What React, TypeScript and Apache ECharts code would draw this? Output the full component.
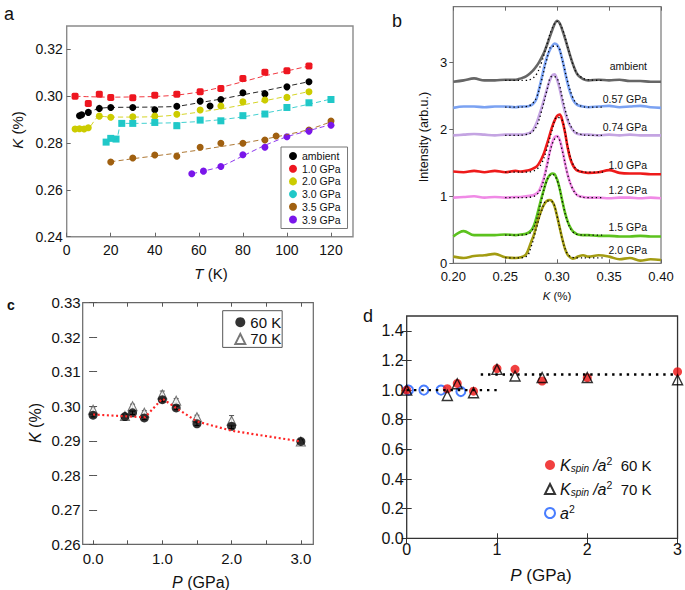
import React, { useEffect, useRef } from "react";
import * as echarts from "echarts";

const FONT = "'Liberation Sans', Arial, Helvetica, sans-serif";

// ---------- Panel a : K vs T ----------
const aNames = ["ambient", "1.0 GPa", "2.0 GPa", "3.0 GPa", "3.5 GPa", "3.9 GPa"];
const aColors = ["#000000", "#ee1620", "#cccc00", "#20c8c8", "#a06010", "#7a16ea"];
const aSymbols = ["circle", "roundRect", "circle", "rect", "circle", "circle"];
const ambientT = [5.8, 6.8, 9.8, 14.8, 20, 30, 40, 50, 60.6, 65.1, 70, 80, 90, 100, 110];
const ambientK = [0.2917, 0.2921, 0.2931, 0.2948, 0.2952, 0.2952, 0.2942, 0.2957, 0.2979, 0.2958, 0.2986, 0.3015, 0.301, 0.304, 0.3062];
const gpa10T = [3.8, 9.8, 14.8, 20, 30, 40, 50, 60.6, 70, 80, 90, 100, 110];
const gpa10K = [0.3, 0.2969, 0.3008, 0.2995, 0.2993, 0.3004, 0.3009, 0.3019, 0.3033, 0.3076, 0.3102, 0.3109, 0.3129];
const gpa20T = [3.8, 5.8, 7.9, 9.8, 14.8, 20, 30, 40, 50, 60.6, 70, 80, 90, 100, 110];
const gpa20K = [0.286, 0.2861, 0.286, 0.2865, 0.2915, 0.291, 0.2912, 0.2915, 0.2923, 0.2941, 0.2958, 0.2976, 0.2984, 0.2995, 0.3019];
const gpa30T = [17.9, 20, 22.4, 25, 30, 40, 50, 60.6, 70, 80, 90, 100, 110, 120];
const gpa30K = [0.2804, 0.282, 0.2817, 0.2884, 0.2884, 0.2888, 0.2874, 0.2898, 0.2895, 0.2917, 0.2924, 0.2952, 0.2972, 0.2986];
const gpa35T = [20, 30, 40, 50, 60.6, 70, 80, 90, 95.1, 110, 120];
const gpa35K = [0.2719, 0.2736, 0.2749, 0.2744, 0.2782, 0.2799, 0.2799, 0.2813, 0.283, 0.2856, 0.2894];
const gpa39T = [56.8, 62.1, 70, 80, 90, 100, 110, 120];
const gpa39K = [0.2669, 0.268, 0.27, 0.275, 0.2782, 0.2827, 0.2851, 0.2876];
const aErr = [0.0003, 0.0008, 0.0008, 0.0008, 0.0003, 0.0003];

// dashed guide curves of panel a
const ambientFitT = [5.8, 10, 15, 20, 30, 40, 50, 60, 70, 80, 90, 100, 110];
const ambientFitK = [0.2918, 0.2933, 0.2948, 0.2952, 0.2953, 0.2954, 0.2957, 0.2972, 0.2988, 0.3006, 0.3024, 0.3043, 0.3062];
const gpa10FitT = [4, 10, 20, 30, 40, 50, 60, 70, 80, 90, 100, 110];
const gpa10FitK = [0.3, 0.2998, 0.2996, 0.2997, 0.2999, 0.3005, 0.3018, 0.3038, 0.3062, 0.3087, 0.3108, 0.3129];
const gpa20FitT = [4, 6, 8, 10, 15, 20, 30, 40, 50, 60, 70, 80, 90, 100, 110];
const gpa20FitK = [0.286, 0.2862, 0.2862, 0.2865, 0.2915, 0.2911, 0.2911, 0.2913, 0.292, 0.2932, 0.2946, 0.2963, 0.2981, 0.3, 0.302];
const gpa30FitT = [18, 20, 22.4, 25, 30, 40, 50, 60, 70, 80, 90, 100, 110, 120];
const gpa30FitK = [0.2804, 0.2818, 0.2817, 0.2884, 0.2884, 0.2885, 0.2887, 0.2892, 0.29, 0.2912, 0.2928, 0.2946, 0.2966, 0.2988];
const gpa35FitT = [20, 30, 40, 50, 60, 70, 80, 90, 100, 110, 120];
const gpa35FitK = [0.272, 0.2733, 0.2745, 0.2757, 0.277, 0.2785, 0.28, 0.2817, 0.2836, 0.2858, 0.2891];
const gpa39FitT = [57, 62, 70, 80, 90, 100, 110, 118];
const gpa39FitK = [0.2669, 0.268, 0.27, 0.2745, 0.279, 0.2827, 0.2853, 0.2874];

const aT = [ambientT, gpa10T, gpa20T, gpa30T, gpa35T, gpa39T];
const aK = [ambientK, gpa10K, gpa20K, gpa30K, gpa35K, gpa39K];
const aFitT = [ambientFitT, gpa10FitT, gpa20FitT, gpa30FitT, gpa35FitT, gpa39FitT];
const aFitK = [ambientFitK, gpa10FitK, gpa20FitK, gpa30FitK, gpa35FitK, gpa39FitK];
const aXTicks = [0, 20, 40, 60, 80, 100, 120];
const aYTicks = [0.24, 0.26, 0.28, 0.3, 0.32];

// ---------- Panel b : spectra ----------
const bNames = ["ambient", "0.57 GPa", "0.74 GPa", "1.0 GPa", "1.2 GPa", "1.5 GPa", "2.0 GPa"];
const bColors = ["#666666", "#7ba2f2", "#c4a4e2", "#ee1a1a", "#f08ae6", "#5cc21e", "#a39c12"];
const specK = [0.2, 0.21, 0.22, 0.23, 0.24, 0.25, 0.26, 0.265, 0.27, 0.275, 0.2775, 0.28, 0.2825, 0.285, 0.2875, 0.29, 0.2925, 0.295, 0.2975, 0.3, 0.3025, 0.305, 0.3075, 0.31, 0.3125, 0.315, 0.3175, 0.32, 0.325, 0.33, 0.34, 0.35, 0.36, 0.37, 0.38, 0.39, 0.4];
const specAmbient = [2.71, 2.73, 2.76, 2.73, 2.73, 2.74, 2.74, 2.76, 2.79, 2.85, 2.89, 2.94, 3.0, 3.07, 3.15, 3.25, 3.36, 3.47, 3.57, 3.62, 3.58, 3.48, 3.36, 3.23, 3.1, 2.98, 2.88, 2.81, 2.75, 2.73, 2.74, 2.73, 2.74, 2.72, 2.72, 2.71, 2.71];
const spec057 = [2.32, 2.34, 2.34, 2.33, 2.34, 2.34, 2.33, 2.34, 2.34, 2.36, 2.39, 2.45, 2.6, 2.76, 2.93, 3.07, 3.17, 3.24, 3.28, 3.26, 3.18, 3.04, 2.86, 2.69, 2.55, 2.45, 2.39, 2.36, 2.34, 2.33, 2.34, 2.35, 2.33, 2.34, 2.35, 2.33, 2.32];
const spec074 = [1.91, 1.92, 1.93, 1.92, 1.91, 1.92, 1.92, 1.92, 1.93, 1.96, 2.01, 2.09, 2.2, 2.32, 2.45, 2.59, 2.71, 2.8, 2.82, 2.74, 2.6, 2.42, 2.26, 2.14, 2.05, 1.99, 1.95, 1.93, 1.92, 1.92, 1.91, 1.92, 1.91, 1.92, 1.91, 1.91, 1.91];
const spec10 = [1.37, 1.36, 1.38, 1.36, 1.38, 1.36, 1.38, 1.37, 1.38, 1.4, 1.42, 1.44, 1.49, 1.56, 1.65, 1.77, 1.9, 2.03, 2.13, 2.2, 2.22, 2.13, 1.96, 1.74, 1.57, 1.47, 1.41, 1.38, 1.36, 1.35, 1.36, 1.39, 1.35, 1.34, 1.34, 1.33, 1.33];
const spec12 = [0.98, 0.99, 1.0, 0.98, 0.99, 0.98, 0.99, 0.99, 1.0, 1.01, 1.02, 1.04, 1.08, 1.17, 1.29, 1.46, 1.64, 1.79, 1.88, 1.9, 1.84, 1.69, 1.5, 1.33, 1.2, 1.11, 1.05, 1.01, 0.99, 0.98, 0.98, 0.97, 0.98, 0.98, 0.97, 0.98, 0.97];
const spec15 = [0.4, 0.48, 0.42, 0.42, 0.42, 0.43, 0.42, 0.43, 0.44, 0.49, 0.56, 0.68, 0.83, 0.98, 1.12, 1.24, 1.31, 1.34, 1.33, 1.25, 1.11, 0.93, 0.76, 0.63, 0.54, 0.48, 0.45, 0.43, 0.42, 0.42, 0.41, 0.41, 0.4, 0.4, 0.41, 0.4, 0.4];
const spec20 = [0.1, 0.08, 0.11, 0.12, 0.14, 0.09, 0.08, 0.09, 0.13, 0.32, 0.42, 0.56, 0.69, 0.8, 0.88, 0.93, 0.945, 0.93, 0.85, 0.7, 0.53, 0.36, 0.22, 0.13, 0.09, 0.07, 0.08, 0.1, 0.12, 0.1, 0.12, 0.1, 0.06, 0.08, 0.04, 0.06, 0.05];
const specs = [specAmbient, spec057, spec074, spec10, spec12, spec15, spec20];
const fitK = [0.25, 0.26, 0.27, 0.275, 0.28, 0.285, 0.29, 0.295, 0.3, 0.305, 0.31, 0.315, 0.32, 0.33, 0.345];
const fitAmbient = [2.73, 2.73, 2.73, 2.75, 2.82, 3.0, 3.26, 3.5, 3.61, 3.5, 3.24, 2.98, 2.82, 2.74, 2.73];
const fit057 = [2.33, 2.33, 2.34, 2.37, 2.47, 2.73, 3.04, 3.24, 3.24, 3.03, 2.72, 2.48, 2.37, 2.33, 2.33];
const fit074 = [1.91, 1.91, 1.92, 1.95, 2.04, 2.27, 2.57, 2.79, 2.76, 2.47, 2.17, 2.0, 1.94, 1.91, 1.91];
const fit10 = [1.36, 1.36, 1.36, 1.37, 1.4, 1.49, 1.7, 1.98, 2.18, 2.13, 1.76, 1.49, 1.39, 1.36, 1.36];
const fit12 = [0.98, 0.98, 0.98, 0.99, 1.02, 1.14, 1.43, 1.77, 1.89, 1.68, 1.33, 1.11, 1.01, 0.98, 0.98];
const fit15 = [0.42, 0.42, 0.43, 0.47, 0.64, 0.95, 1.23, 1.33, 1.24, 0.92, 0.62, 0.47, 0.43, 0.42, 0.42];
const fit20 = [0.08, 0.08, 0.1, 0.25, 0.52, 0.78, 0.93, 0.92, 0.7, 0.36, 0.14, 0.09, 0.08, 0.08, 0.08];
const fits = [fitAmbient, fit057, fit074, fit10, fit12, fit15, fit20];
const bLabelY = [66, 98.5, 127, 164.5, 190, 226.5, 250];
const bYTicks = [0, 1, 2, 3];

// ---------- Panel c : K vs P ----------
const cP = [0, 0.46, 0.57, 0.74, 1.0, 1.2, 1.5, 2.0, 3.0];
const cK60 = [0.2974, 0.297, 0.2981, 0.2966, 0.3019, 0.2995, 0.2949, 0.2942, 0.2898];
const cK70 = [0.299, 0.2972, 0.3, 0.2981, 0.3034, 0.3016, 0.2968, 0.2958, 0.2898];
const cErr70 = [0.0008, 0.0005, 0.0006, 0.0006, 0.001, 0.0006, 0.0006, 0.0015, 0.0005];
const cErr60 = [0.0005, 0.0005, 0.0005, 0.0005, 0.0006, 0.0005, 0.0005, 0.0007, 0.0005];
const cLineP = [0, 0.46, 0.75, 1.0, 1.2, 1.5, 2.0, 3.0];
const cLineK = [0.2976, 0.2971, 0.2968, 0.3022, 0.2995, 0.2956, 0.2929, 0.2898];
const cXLabels = [0, 1, 2, 3];
const cXTicks = [0, 0.5, 1, 1.5, 2, 2.5, 3];

// ---------- Panel d : normalised ----------
const dP = [0, 0.45, 0.56, 0.74, 1.0, 1.2, 1.5, 2.0, 3.0];
const d60 = [1.0, 1.009, 1.045, 0.993, 1.145, 1.14, 1.061, 1.084, 1.124];
const d70 = [1.0, 0.964, 1.043, 0.982, 1.14, 1.095, 1.085, 1.085, 1.07];
const a2P = [0.02, 0.19, 0.38, 0.6];
const a2V = [1.0, 1.0, 1.0, 0.99];
const dLowP = [0, 1.02];
const dLowV = [1.0, 1.0];
const dHighP = [0.82, 3.0];
const dHighV = [1.105, 1.105];
const dYTicks = [0, 0.2, 0.4, 0.6, 0.8, 1.0, 1.2, 1.4];

const zip = (xs: number[], ys: number[]) => xs.map((x, i) => [x, ys[i]]);
const zip3 = (xs: number[], ys: number[], es: number[]) => xs.map((x, i) => [x, ys[i], es[i]]);

function errRender(color: string, cap: number, width = 1) {
  return (params: any, api: any) => {
    const x = api.value(0), y = api.value(1), e = api.value(2);
    const p1 = api.coord([x, y + e]);
    const p2 = api.coord([x, y - e]);
    const s = { stroke: color, lineWidth: width };
    return {
      type: "group",
      children: [
        { type: "line", shape: { x1: p1[0], y1: p1[1], x2: p2[0], y2: p2[1] }, style: s },
        { type: "line", shape: { x1: p1[0] - cap, y1: p1[1], x2: p1[0] + cap, y2: p1[1] }, style: s },
        { type: "line", shape: { x1: p2[0] - cap, y1: p2[1], x2: p2[0] + cap, y2: p2[1] }, style: s },
      ],
    };
  };
}

function valueAxis(o: any) {
  return {
    type: "value",
    scale: true,
    splitLine: { show: false },
    axisLine: { show: false },
    ...o,
  };
}

function buildOption() {
  const series: any[] = [];
  // panel a
  aNames.forEach((name, i) => {
    series.push({
      type: "line", name: name + " fit", xAxisIndex: 0, yAxisIndex: 0,
      data: zip(aFitT[i], aFitK[i]), showSymbol: false, smooth: 0.3,
      lineStyle: { color: aColors[i], width: 1, type: [5, 3], opacity: 0.85 }, silent: true,
    });
  });
  aNames.forEach((name, i) => {
    series.push({
      type: "custom", name: name + " err", xAxisIndex: 0, yAxisIndex: 0,
      data: zip3(aT[i], aK[i], aT[i].map(() => aErr[i])),
      renderItem: errRender(aColors[i], 2.5), encode: { x: 0, y: 1 }, silent: true,
    });
    series.push({
      type: "scatter", name, xAxisIndex: 0, yAxisIndex: 0,
      data: zip(aT[i], aK[i]), symbol: aSymbols[i], symbolSize: 7,
      itemStyle: { color: aColors[i], opacity: 1 },
    });
  });
  // panel b
  bNames.forEach((name, i) => {
    series.push({
      type: "line", name: "spec " + name, xAxisIndex: 1, yAxisIndex: 1,
      data: zip(specK, specs[i]), showSymbol: false, smooth: 0.35,
      lineStyle: { color: bColors[i], width: 2.6 }, silent: true,
    });
  });
  bNames.forEach((name, i) => {
    series.push({
      type: "line", name: "fit " + name, xAxisIndex: 1, yAxisIndex: 1,
      data: zip(fitK, fits[i]), showSymbol: false, smooth: 0.4,
      lineStyle: { color: "#000", width: 1.3, type: [1.3, 2.8] }, silent: true, z: 3,
    });
  });
  // panel c
  series.push({
    type: "custom", name: "c70err", xAxisIndex: 3, yAxisIndex: 2,
    data: zip3(cP, cK70, cErr70), renderItem: errRender("#555", 2.5), encode: { x: 0, y: 1 }, silent: true,
  });
  series.push({
    type: "scatter", name: "70 K", xAxisIndex: 3, yAxisIndex: 2,
    data: zip(cP, cK70), symbol: "triangle", symbolSize: 9,
    itemStyle: { color: "#fff", borderColor: "#555", borderWidth: 1.1 },
  });
  series.push({
    type: "custom", name: "c60err", xAxisIndex: 3, yAxisIndex: 2,
    data: zip3(cP, cK60, cErr60), renderItem: errRender("#000", 2.5), encode: { x: 0, y: 1 }, silent: true,
  });
  series.push({
    type: "scatter", name: "60 K", xAxisIndex: 3, yAxisIndex: 2,
    data: zip(cP, cK60), symbol: "circle", symbolSize: 9,
    itemStyle: { color: "#000" },
  });
  series.push({
    type: "line", name: "cline", xAxisIndex: 3, yAxisIndex: 2,
    data: zip(cLineP, cLineK), showSymbol: false, smooth: false, z: 5,
    lineStyle: { color: "#ff2424", width: 2.2, type: [2, 2.6] }, silent: true,
  });
  // panel d
  series.push({
    type: "line", name: "dlow", xAxisIndex: 5, yAxisIndex: 4,
    data: zip(dLowP, dLowV), showSymbol: false,
    lineStyle: { color: "#000", width: 2.4, type: [2.4, 4.9] }, silent: true,
  });
  series.push({
    type: "line", name: "dhigh", xAxisIndex: 5, yAxisIndex: 4,
    data: zip(dHighP, dHighV), showSymbol: false,
    lineStyle: { color: "#000", width: 2.4, type: [2.4, 4.9] }, silent: true,
  });
  series.push({
    type: "scatter", name: "a2", xAxisIndex: 5, yAxisIndex: 4,
    data: zip(a2P, a2V), symbol: "circle", symbolSize: 9,
    itemStyle: { color: "rgba(255,255,255,0)", borderColor: "#1a5cff", borderWidth: 2 },
  });
  series.push({
    type: "scatter", name: "K60", xAxisIndex: 5, yAxisIndex: 4,
    data: zip(dP, d60), symbol: "circle", symbolSize: 9,
    itemStyle: { color: "#ee1010" },
  });
  series.push({
    type: "scatter", name: "K70", xAxisIndex: 5, yAxisIndex: 4,
    data: zip(dP, d70), symbol: "triangle", symbolSize: 10,
    itemStyle: { color: "rgba(255,255,255,0)", borderColor: "#000", borderWidth: 1.4 },
  });

  const lbl = (size: number, extra: any = {}) => ({ fontSize: size, fontFamily: FONT, color: "#111", ...extra });

  const xAxis = [
    valueAxis({ gridIndex: 0, min: 0, max: 130,
      axisTick: { inside: true, length: 4, customValues: aXTicks, lineStyle: { color: "#666" } },
      axisLabel: { customValues: aXTicks, margin: 6, ...lbl(14) } }),
    valueAxis({ gridIndex: 1, min: 0.2, max: 0.4, interval: 0.05,
      axisTick: { inside: true, length: 4, lineStyle: { color: "#666" } },
      axisLabel: { margin: 7, formatter: (v: number) => v.toFixed(2), ...lbl(13) } }),
    valueAxis({ gridIndex: 1, min: 0.2, max: 0.4, interval: 0.05, position: "top",
      axisTick: { inside: true, length: 4, lineStyle: { color: "#666" } }, axisLabel: { show: false } }),
    valueAxis({ gridIndex: 2, min: -0.15, max: 3.18,
      axisTick: { inside: true, length: 4, customValues: cXTicks, lineStyle: { color: "#555" } },
      axisLabel: { customValues: cXLabels, margin: 7, formatter: (v: number) => v.toFixed(1), ...lbl(15) } }),
    valueAxis({ gridIndex: 2, min: -0.15, max: 3.18, position: "top",
      axisTick: { inside: true, length: 4, customValues: cXTicks, lineStyle: { color: "#555" } }, axisLabel: { show: false } }),
    valueAxis({ gridIndex: 3, min: 0, max: 3, interval: 1,
      axisTick: { inside: true, length: 5, lineStyle: { color: "#333" } },
      axisLabel: { margin: 3, ...lbl(16) } }),
    valueAxis({ gridIndex: 3, min: 0, max: 3, interval: 1, position: "top",
      axisTick: { inside: true, length: 5, lineStyle: { color: "#333" } }, axisLabel: { show: false } }),
  ];
  const yAxis = [
    valueAxis({ gridIndex: 0, min: 0.24, max: 0.33,
      axisTick: { inside: true, length: 4, customValues: aYTicks, lineStyle: { color: "#666" } },
      axisLabel: { customValues: aYTicks, margin: 4, formatter: (v: number) => v.toFixed(2), ...lbl(14) } }),
    valueAxis({ gridIndex: 1, min: 0, max: 3.83,
      axisTick: { inside: false, length: 4, customValues: bYTicks, lineStyle: { color: "#666" } },
      axisLabel: { customValues: bYTicks, margin: 6, ...lbl(13) } }),
    valueAxis({ gridIndex: 2, min: 0.26, max: 0.33, interval: 0.01,
      axisTick: { inside: true, length: 4, lineStyle: { color: "#555" } },
      axisLabel: { margin: 2, formatter: (v: number) => v.toFixed(2), ...lbl(15) } }),
    valueAxis({ gridIndex: 2, min: 0.26, max: 0.33, interval: 0.01, position: "right",
      axisTick: { inside: true, length: 4, lineStyle: { color: "#555" } }, axisLabel: { show: false } }),
    valueAxis({ gridIndex: 3, min: 0, max: 1.5,
      axisTick: { inside: true, length: 5, customValues: dYTicks, lineStyle: { color: "#333" } },
      axisLabel: { customValues: dYTicks, margin: 3, formatter: (v: number) => v.toFixed(1), ...lbl(16) } }),
    valueAxis({ gridIndex: 3, min: 0, max: 1.5, position: "right",
      axisTick: { inside: true, length: 5, customValues: dYTicks, lineStyle: { color: "#333" } }, axisLabel: { show: false } }),
  ];

  const txt = (text: string, x: number, y: number, size: number, extra: any = {}) => ({
    type: "text", x, y, z: 100, silent: true,
    style: { text, fontSize: size, fontFamily: FONT, fill: "#111", align: "center", verticalAlign: "middle",
      rich: { i: { fontStyle: "italic", fontSize: size, fontFamily: FONT } }, ...extra },
  });

  const graphic = [
    txt("a", 9, 14, 18),
    txt("b", 397, 21, 18),
    txt("c", 11, 305, 14, { fontWeight: "bold" }),
    txt("d", 368, 316, 18),
    { ...txt("{i|K} (%)", 17, 130, 15), rotation: Math.PI / 2 },
    txt("{i|T} (K)", 211, 273, 15),
    { ...txt("Intensity (arb.u.)", 424, 137, 12.5), rotation: Math.PI / 2 },
    txt("{i|K} (%)", 557, 296, 11.5),
    { ...txt("{i|K} (%)", 35, 423, 16), rotation: Math.PI / 2 },
    txt("{i|P} (GPa)", 201, 582, 16),
    txt("{i|P} (GPa)", 541, 575, 17),
    ...bNames.map((n, i) => txt(n, 647, bLabelY[i], 10.5, { align: "right" })),
  ];

  const dLegendText: Record<string, string> = {
    K60: "{i|K}{sub|spin} {i|/a}{sup|2}  60 K",
    K70: "{i|K}{sub|spin} {i|/a}{sup|2}  70 K",
    a2: "{i|a}{sup|2}",
  };

  return {
    animation: false,
    backgroundColor: "#fff",
    textStyle: { fontFamily: FONT },
    grid: [
      { left: 66.7, top: 26, width: 286.3, height: 210.7, show: true, borderColor: "#8a8a8a", borderWidth: 1.4, backgroundColor: "transparent" },
      { left: 453.3, top: 6.7, width: 207.7, height: 256.6, show: true, borderColor: "#777", borderWidth: 1.2, backgroundColor: "transparent" },
      { left: 82.7, top: 302.7, width: 230.6, height: 241.6, show: true, borderColor: "#666", borderWidth: 1.2, backgroundColor: "transparent" },
      { left: 406.7, top: 316, width: 274, height: 222.3, show: true, borderColor: "#333", borderWidth: 1.3, backgroundColor: "transparent" },
    ],
    xAxis,
    yAxis,
    legend: [
      {
        left: 281, top: 147, orient: "vertical", selectedMode: false,
        data: aNames.map((n) => ({ name: n, icon: "circle" })),
        itemWidth: 8, itemHeight: 8, itemGap: 1.7, itemTextGap: 11,
        padding: [3.5, 7, 3.5, 8], borderColor: "#777", borderWidth: 1, backgroundColor: "#fff",
        textStyle: { fontSize: 10.5, fontFamily: FONT, color: "#111", lineHeight: 11 },
      },
      {
        left: 222.7, top: 310.7, orient: "vertical", selectedMode: false,
        data: ["60 K", "70 K"],
        itemWidth: 10, itemHeight: 10, itemGap: 1.7, itemTextGap: 10.7,
        padding: [4, 1, 1, 11.6], borderColor: "#555", borderWidth: 1, backgroundColor: "#fff",
        textStyle: { fontSize: 15, fontFamily: FONT, color: "#111", lineHeight: 15 },
      },
      {
        left: 539, top: 450, orient: "vertical", selectedMode: false,
        data: ["K60", "K70", "a2"],
        itemWidth: 10, itemHeight: 10, itemGap: 4, itemTextGap: 14,
        formatter: (n: string) => dLegendText[n],
        textStyle: {
          fontSize: 15, fontFamily: FONT, color: "#111", lineHeight: 20,
          rich: {
            i: { fontStyle: "italic", fontSize: 16, fontFamily: FONT },
            sub: { fontStyle: "italic", fontSize: 10, fontFamily: FONT, padding: [7, 0, 0, 0] },
            sup: { fontSize: 10.5, fontFamily: FONT, padding: [0, 0, 9, 0] },
          },
        },
      },
    ],
    graphic,
    series,
  };
}

export default function App() {
  const ref = useRef<HTMLDivElement>(null);
  useEffect(() => {
    document.body.style.margin = "0";
    if (!ref.current) return;
    const chart = echarts.init(ref.current, undefined, { renderer: "svg" });
    chart.setOption(buildOption() as any);
    return () => chart.dispose();
  }, []);
  return <div ref={ref} style={{ width: 685, height: 590 }} />;
}
